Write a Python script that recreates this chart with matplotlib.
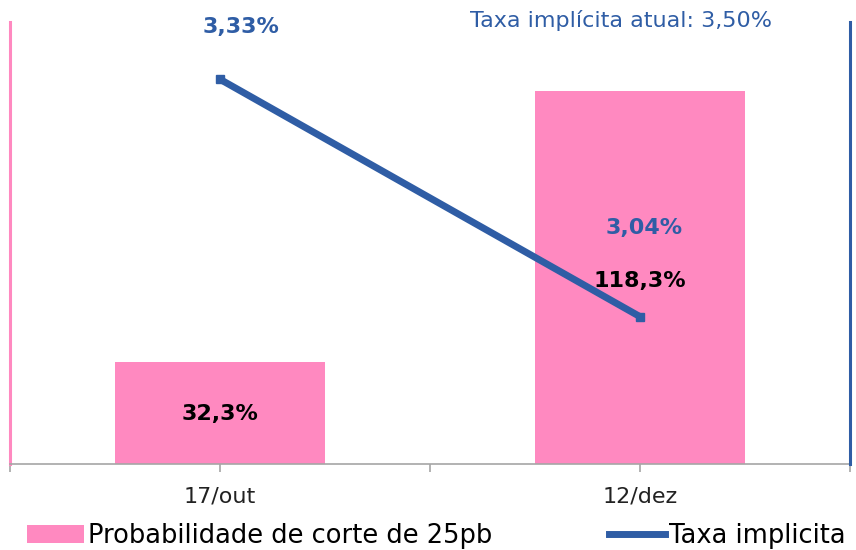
import matplotlib.pyplot as plt
from matplotlib.lines import Line2D
from matplotlib.patches import Patch

# Data
datas = ['17/out', '12/dez']
prob_corte = [32.3, 118.3]
taxa_implicita = [3.33, 3.04]
prob_labels = ['32,3%', '118,3%']
taxa_labels = ['3,33%', '3,04%']
taxa_atual = 'Taxa implícita atual: 3,50%'

pink = '#FF89C0'
blue = '#2F5DA5'

plt.rcParams['font.family'] = 'DejaVu Sans'

fig = plt.figure(figsize=(8.56, 5.5), dpi=100)
ax = fig.add_axes([0.0117, 0.1564, 0.9813, 0.8036])
ax2 = ax.twinx()

x = list(range(len(datas)))

# Bars (left axis)
ax.bar(x, prob_corte, width=0.5, color=pink, zorder=2)
ax.set_ylim(0, 140.2)
ax.set_xlim(-0.5, 1.5)

# Line (right axis)
ax2.plot(x, taxa_implicita, color=blue, linewidth=5, marker='s', markersize=6,
         solid_capstyle='butt', zorder=3)
ax2.set_ylim(2.86, 3.40)

# Axes styling
for a in (ax, ax2):
    a.spines['top'].set_visible(False)
    a.set_yticks([])
ax.spines['right'].set_visible(False)
ax.spines['left'].set_color(pink)
ax.spines['left'].set_linewidth(2.2)
ax2.spines['left'].set_visible(False)
ax2.spines['right'].set_color(blue)
ax2.spines['right'].set_linewidth(2.2)
ax2.spines['bottom'].set_visible(False)
ax.spines['bottom'].set_color('#A6A6A6')
ax.spines['bottom'].set_linewidth(1.2)

ax.set_xticks([-0.5, 0, 0.5, 1, 1.5])
ax.set_xticklabels(['', datas[0], '', datas[1], ''], fontsize=16, color='#222222')
ax.tick_params(axis='x', length=6, width=1.2, color='#A6A6A6', pad=10)

# Data labels
ax.text(x[0], 15.8, prob_labels[0], ha='center', va='center', fontsize=16,
        fontweight='bold', color='black', zorder=5)
ax.text(x[1], 57.9, prob_labels[1], ha='center', va='center', fontsize=16,
        fontweight='bold', color='black', zorder=5)
ax2.text(x[0] + 0.05, 3.394, taxa_labels[0], ha='center', va='center', fontsize=16,
         fontweight='bold', color=blue, zorder=5)
ax2.text(x[1] + 0.01, 3.148, taxa_labels[1], ha='center', va='center', fontsize=16,
         fontweight='bold', color=blue, zorder=5)

fig.text(0.725, 0.963, taxa_atual, ha='center', va='center', fontsize=16, color=blue)

# Legend
handles = [Patch(facecolor=pink, edgecolor='none'),
           Line2D([0], [0], color=blue, linewidth=5, marker='_', markersize=8,
                  markeredgewidth=2)]
fig.legend(handles, ['Probabilidade de corte de 25pb', 'Taxa implicita'],
           loc='lower left', bbox_to_anchor=(0.02, -0.017, 0.98, 0.1), mode='expand',
           ncol=2, frameon=False, fontsize=18.5, handlelength=2.2, handletextpad=0.15,
           borderaxespad=0.0)

fig.savefig('out.png', dpi=100)
